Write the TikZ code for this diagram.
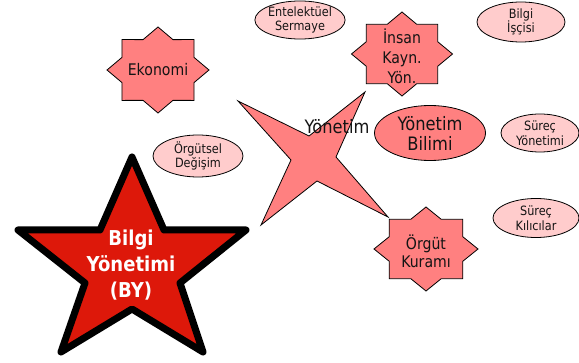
\documentclass[tikz,border=0pt]{standalone}
\usepackage{fontspec}
\setmainfont{DejaVu Sans}[FakeStretch=0.88]
\usetikzlibrary{shapes.geometric}

\definecolor{salmon}{RGB}{255,128,128}
\definecolor{blush}{RGB}{255,204,204}
\definecolor{starred}{RGB}{221,24,10}
\definecolor{ink}{RGB}{20,20,20}

\tikzset{
  seal/.style={draw=black, line width=0.8pt, fill=salmon, line join=miter},
  bubble/.style={ellipse, draw=black, line width=0.8pt, fill=blush, inner sep=0pt,
    align=center, text=ink, font=\fontsize{12.8}{14.5}\selectfont},
  sealtext/.style={align=center, text=ink, font=\fontsize{16}{19}\selectfont},
}

% eight-pointed seal: centre, horizontal radius, vertical radius
\newcommand\octseal[3]{%
  \draw[seal, shift={#1}] plot[samples at={0,...,15}, variable=\k]
    ({(mod(\k,2)==1 ? 0.765 : 1)*#2*cos(22.5*\k)},
     {(mod(\k,2)==1 ? 0.765 : 1)*#3*sin(22.5*\k)}) -- cycle;}

\begin{document}
\begin{tikzpicture}[x=1pt, y=-1pt]
\useasboundingbox (0,0) rectangle (579,363);

% four-pointed star
\draw[seal] (238,101) -- (309,136) -- (365,92) -- (336,157) -- (388,217)
  -- (317,181) -- (261,225) -- (291,160) -- cycle;
\node[anchor=base, text=ink, font=\fontsize{18.5}{20}\selectfont] (yonetim) at (337,134) {Yönetim};

% seals
\octseal{(158,70)}{51}{43}
\node[sealtext] (ekonomi) at (158,70) {Ekonomi};

\octseal{(402,54)}{50.5}{42}
\node[sealtext, font=\fontsize{16}{20}\selectfont] (ik) at (402,56) {İnsan\\Kayn.\\Yön.};

\octseal{(426,249)}{52}{42}
\node[sealtext, font=\fontsize{16}{18}\selectfont] (orgut) at (426,251) {Örgüt\\Kuramı};

% management science
\node[ellipse, draw=black, line width=0.8pt, fill=salmon, minimum width=111, minimum height=55,
  inner sep=0pt, align=center, text=ink, font=\fontsize{18.5}{20}\selectfont] (bilim) at (430,133) {Yönetim\\Bilimi};

% light bubbles
\node[bubble, minimum width=86, minimum height=36] (entel) at (300,20) {Entelektüel\\Sermaye};
\node[bubble, minimum width=88, minimum height=40] (isci) at (521,22) {Bilgi\\İşçisi};
\node[bubble, minimum width=90, minimum height=42] (degisim) at (198,156) {Örgütsel\\Değişim};
\node[bubble, minimum width=78, minimum height=38] (surec) at (540,133) {Süreç\\Yönetimi};
\node[bubble, minimum width=86, minimum height=39] (kilici) at (536,218) {Süreç\\Kılıcılar};

% central five-pointed star
\draw[line width=7pt, line join=round, fill=starred] (132,157) -- (164,230) -- (246,230)
  -- (180,283) -- (203,352) -- (132,309) -- (61,352) -- (85,283) -- (18,230) -- (100,230) -- cycle;
\node[align=center, text=white, font=\bfseries\fontsize{20.5}{26}\selectfont] (by) at (131,265) {Bilgi\\Yönetimi\\(BY)};
\end{tikzpicture}
\end{document}
